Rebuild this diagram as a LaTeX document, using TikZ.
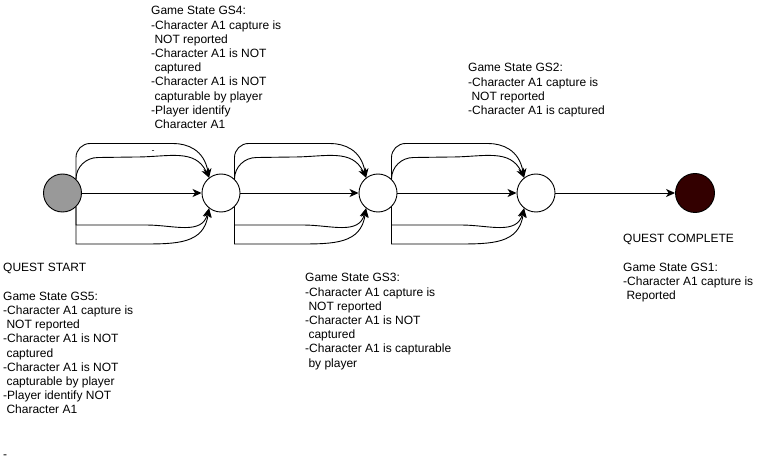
\documentclass[tikz,border=0pt]{standalone}
\usepackage{fontspec}
\setmainfont{Liberation Sans}
\usepackage{tikz}
\usetikzlibrary{arrows.meta}

\definecolor{startgray}{HTML}{999999}
\definecolor{endred}{HTML}{330000}

\begin{document}
\begin{tikzpicture}[x=1pt,y=1pt,
  state/.style={circle,draw,line width=0.9pt,minimum size=38pt,inner sep=0pt,fill=white},
  flow/.style={line width=0.9pt,-{Stealth[length=9pt,width=8pt,inset=2.5pt]}},
  info/.style={align=left,anchor=north west,inner sep=0pt,font=\fontsize{12}{14.2}\selectfont}]
\useasboundingbox (0,0) rectangle (771,464);

\node[state,fill=startgray] (start) at (62.5,271) {};
\node[state] (gs4) at (221,271) {};
\node[state] (gs3) at (378,271) {};
\node[state] (gs2) at (536,271) {};
\node[state,fill=endred,minimum size=39pt] (gs1) at (695,271) {};

\foreach \a/\b in {start/gs4,gs4/gs3,gs3/gs2}{
  \path (\b) +(-62,49.5) coordinate (\b-ot);
  \path (\b) +(-85,36) coordinate (\b-it);
  \path (\b) +(-75,-32) coordinate (\b-ib);
  \path (\b) +(-80,-51) coordinate (\b-ob);
  \draw[flow] (\a) -- (\b);
  \draw[flow,rounded corners=14pt] (\a.46) |- (\b-ot) to[out=0,in=100,looseness=1.2] (\b.128);
  \draw[flow] (\a.46) to[out=90,in=180] ++(22,21.5) -- (\b-it) to[out=0,in=115,looseness=1.1] (\b.128);
  \draw[flow] (\a.314) |- (\b-ib) to[out=0,in=255,looseness=1.1] (\b.232);
  \draw[flow] (\a.314) |- (\b-ob) to[out=0,in=262,looseness=1.2] (\b.232);
}
\draw[flow] (gs2) -- (gs1);

\node[inner sep=0pt,font=\fontsize{9}{10}\selectfont] (lbl) at (153,312) {-};

\node[info] (gs4txt) at (151,457.6) {Game State GS4:\\-Character A1 capture is\\\ NOT reported\\-Character A1 is NOT\\\ captured\\-Character A1 is NOT\\\ capturable by player\\-Player identify\\\ Character A1};
\node[info] (gs2txt) at (468,400.6) {Game State GS2:\\-Character A1 capture is\\\ NOT reported\\-Character A1 is captured};
\node[info] (gs3txt) at (305,190.6) {Game State GS3:\\-Character A1 capture is\\\ NOT reported\\-Character A1 is NOT\\\ captured\\-Character A1 is capturable\\\ by player};
\node[info] (starttxt) at (3,200.6) {QUEST START\\[14.2pt]Game State GS5:\\-Character A1 capture is\\\ NOT reported\\-Character A1 is NOT\\\ captured\\-Character A1 is NOT\\\ capturable by player\\-Player identify NOT\\\ Character A1};
\node[info] (endtxt) at (623,229.6) {QUEST COMPLETE\\[14.2pt]Game State GS1:\\-Character A1 capture is\\\ Reported};
\node[anchor=base west,inner sep=0pt,font=\fontsize{12}{14.2}\selectfont] (tail) at (3,5.5) {-};

\end{tikzpicture}
\end{document}
